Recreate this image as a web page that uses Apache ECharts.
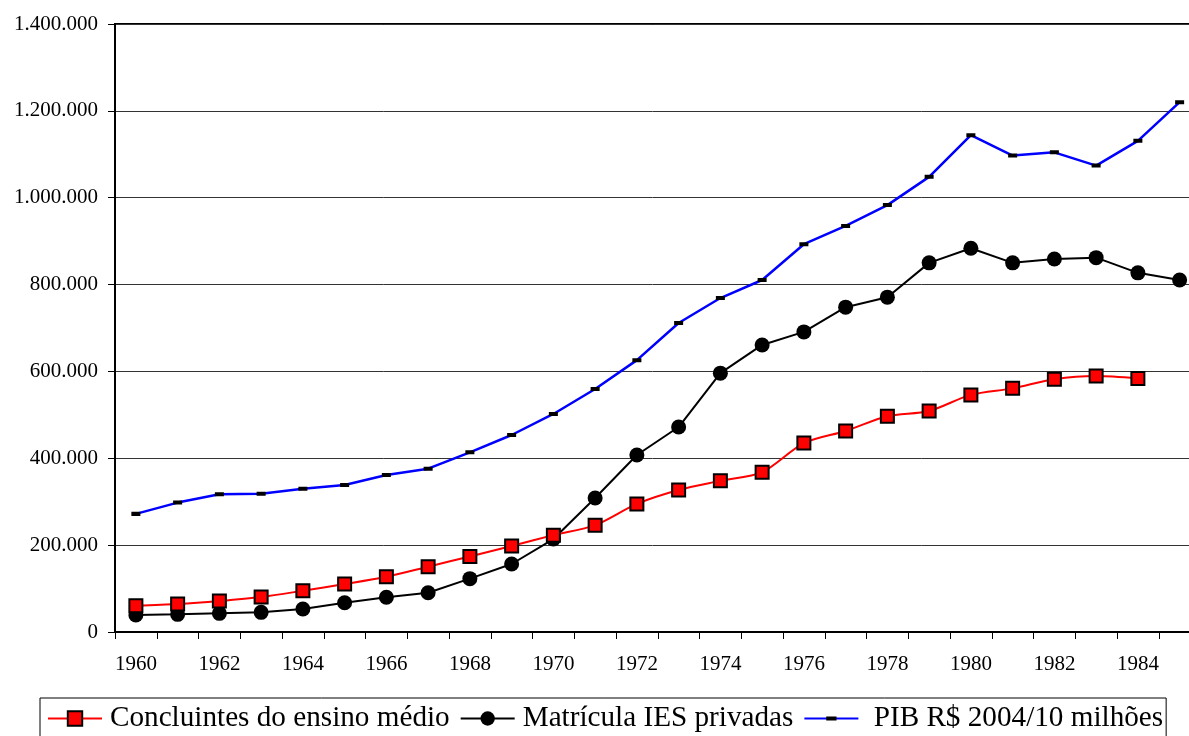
<!DOCTYPE html>
<html>
<head>
<meta charset="utf-8">
<script src="https://cdn.jsdelivr.net/npm/echarts@6/dist/echarts.min.js"></script>
<style>
html,body{margin:0;padding:0;background:#fff;}
#chart{width:1189px;height:736px;}
</style>
</head>
<body>
<div id="chart"></div>
<script>
const years = ['1960','1961','1962','1963','1964','1965','1966','1967','1968','1969','1970','1971','1972','1973','1974','1975','1976','1977','1978','1979','1980','1981','1982','1983','1984','1985'];
const concluintes = [60600,64500,71400,80600,95000,110500,127400,150400,174000,198000,223000,246000,295000,327000,348000,368000,435000,463000,497000,509000,546000,561000,582000,589500,584000,null];
const matricula = [39000,40700,43000,45300,53000,67500,80000,90500,122800,156600,214000,308500,407600,472000,596000,661000,691000,748000,771000,850000,883500,850000,859000,862000,827000,810500];
const pib = [272000,298000,317000,318500,330000,338500,361500,376000,413700,453600,502000,559500,626000,711500,769000,810500,893000,935000,983000,1048000,1144000,1097000,1104500,1074000,1131000,1220000];
const seriesNames = ['Concluintes do ensino médio','Matrícula IES privadas','PIB R$ 2004/10 milhões'];

const FONT = '"Liberation Serif", "Times New Roman", serif';
function fmt(v){ return String(v).replace(/\B(?=(\d{3})+(?!\d))/g, '.'); }
// dash marker inside a padded square box (invisible corner points set the box)
const DASH = 'path://M0,0L0.01,0M2,4L12,4L12,7L2,7ZM14,11L13.99,11';

const chart = echarts.init(document.getElementById('chart'));
chart.setOption({
  animation: false,
  backgroundColor: '#fff',
  grid: {
    left: 115, top: 24, width: 1085.5, height: 608,
    show: true, borderColor: '#000', borderWidth: 2, backgroundColor: 'transparent',
    containLabel: false, outerBoundsMode: 'none'
  },
  legend: {
    left: 40, top: 698,
    orient: 'horizontal',
    borderColor: '#000', borderWidth: 1,
    padding: [6, 3, 8, 7],
    itemWidth: 54, itemHeight: 18, itemGap: 10,
    textStyle: { fontFamily: FONT, fontSize: 29.2, color: '#000', padding: [0,0,0,3] },
    formatter: function(n){ return n === seriesNames[2] ? ' ' + n : n; },
    data: seriesNames
  },
  xAxis: {
    type: 'category',
    data: years,
    boundaryGap: true,
    axisLine: { lineStyle: { color: '#000', width: 2 } },
    axisTick: { show: true, interval: 0, length: 7, inside: false, lineStyle: { color: '#000', width: 1 } },
    axisLabel: { interval: 1, margin: 22, fontFamily: FONT, fontSize: 21, color: '#000' },
    splitLine: { show: false }
  },
  yAxis: {
    type: 'value',
    min: 0, max: 1400000, interval: 200000,
    axisLine: { show: true, lineStyle: { color: '#000', width: 2 } },
    axisTick: { show: true, length: 7, lineStyle: { color: '#000', width: 1 } },
    axisLabel: { margin: 17, fontFamily: FONT, fontSize: 21, color: '#000', formatter: fmt },
    splitLine: { show: true, lineStyle: { color: '#333', width: 1 } }
  },
  series: [
    {
      name: seriesNames[0], type: 'line', data: concluintes, smooth: 0.3,
      symbol: 'rect', symbolSize: 13,
      lineStyle: { color: '#ff0000', width: 2 },
      itemStyle: { color: '#ff0000', borderColor: '#000', borderWidth: 2 },
      z: 3
    },
    {
      name: seriesNames[1], type: 'line', data: matricula,
      symbol: 'circle', symbolSize: 15,
      lineStyle: { color: '#000', width: 2 },
      itemStyle: { color: '#000', borderColor: '#000', borderWidth: 0 },
      z: 2
    },
    {
      name: seriesNames[2], type: 'line', data: pib,
      symbol: DASH, symbolSize: [12.6, 14.7],
      lineStyle: { color: '#0000ff', width: 2.5 },
      itemStyle: { color: '#000', borderWidth: 0 },
      z: 1
    }
  ]
});
</script>
</body>
</html>
